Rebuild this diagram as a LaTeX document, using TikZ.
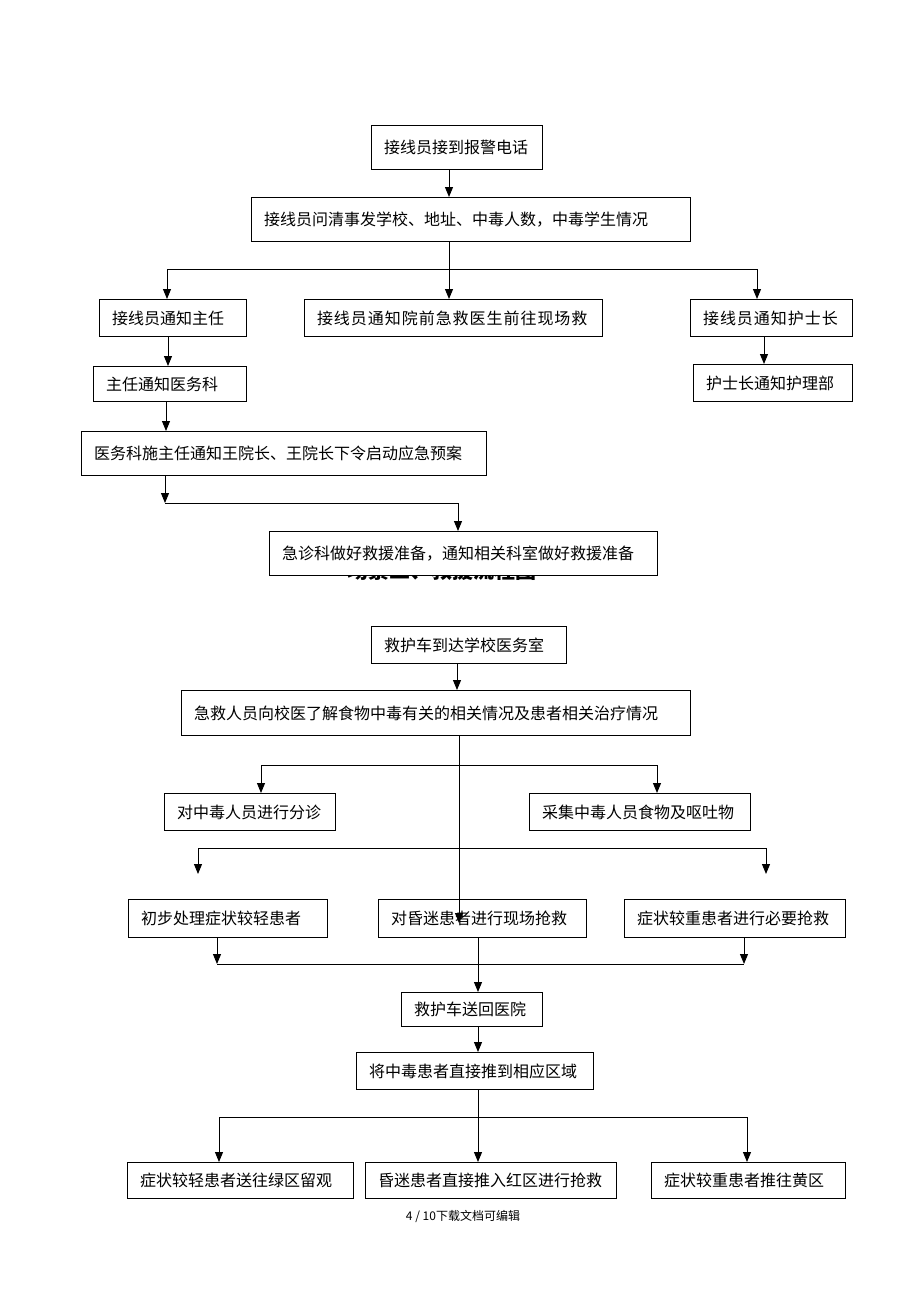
\documentclass[tikz,border=0pt]{standalone}
\usepackage{fontspec}
\newfontfamily\cjk{Noto Sans CJK SC}
\usetikzlibrary{arrows.meta}
\tikzset{
  box/.style={draw=black, line width=1.1pt, fill=white, inner xsep=12.5pt, inner ysep=0pt,
    font=\cjk\fontsize{16}{19}\selectfont, text=black},
  arr/.style={line width=1pt, -{Triangle[length=10pt,width=8pt]}},
  ln/.style={line width=1pt},
}
\newcommand\flowbox[6]{%
  \pgfmathsetmacro\bw{#4-#2}%
  \pgfmathsetmacro\bh{#5-#3}%
  \pgfmathsetmacro\tw{#4-#2-25}%
  \node[box, minimum width=\bw pt, minimum height=\bh pt, anchor=north west] (#1) at (#2,#3) {\makebox[\tw pt][l]{#6}};}
\begin{document}
\begin{tikzpicture}[x=1pt, y=-1pt]
\useasboundingbox (0,0) rectangle (920,1302);
\fill[white] (0,0) rectangle (920,1302);
% part 1
\flowbox{b1}{371}{125}{542}{169}{接线员接到报警电话}
\flowbox{b2}{251}{197}{690}{241}{接线员问清事发学校、地址、中毒人数，中毒学生情况}
\flowbox{b3a}{99}{299}{246}{336}{接线员通知主任}
\flowbox{b3b}{304}{299}{602}{336}{\addfontfeature{LetterSpace=6}接线员通知院前急救医生前往现场救}
\flowbox{b3c}{690}{299}{852}{336}{\addfontfeature{LetterSpace=6}接线员通知护士长}
\flowbox{b4a}{93}{366}{246}{401}{主任通知医务科}
\flowbox{b4c}{693}{364}{852}{401}{护士长通知护理部}
\flowbox{b5}{81}{431}{486}{475}{医务科施主任通知王院长、王院长下令启动应急预案}
\node[font=\cjk\bfseries\fontsize{21}{24}\selectfont, anchor=base] (title) at (442,578) {场景二、救援流程图};
\flowbox{b6}{269}{531}{657}{575}{急诊科做好救援准备，通知相关科室做好救援准备}
% part 2
\flowbox{b7}{371}{626}{566}{663}{救护车到达学校医务室}
\flowbox{b8}{181}{690}{690}{735}{急救人员向校医了解食物中毒有关的相关情况及患者相关治疗情况}
\flowbox{b9a}{164}{793}{335}{830}{对中毒人员进行分诊}
\flowbox{b9c}{529}{793}{750}{830}{采集中毒人员食物及呕吐物}
\flowbox{b10a}{128}{899}{327}{937}{初步处理症状较轻患者}
\flowbox{b10b}{378}{899}{586}{937}{对昏迷患者进行现场抢救}
\flowbox{b10c}{624}{899}{845}{937}{症状较重患者进行必要抢救}
\flowbox{b11}{401}{992}{542}{1026}{救护车送回医院}
\flowbox{b12}{356}{1052}{593}{1089}{将中毒患者直接推到相应区域}
\flowbox{b13a}{127}{1162}{353}{1198}{症状较轻患者送往绿区留观}
\flowbox{b13b}{365}{1162}{616}{1198}{昏迷患者直接推入红区进行抢救}
\flowbox{b13c}{651}{1162}{845}{1198}{症状较重患者推往黄区}
\node[font=\cjk\fontsize{12}{14}\selectfont] (footer) at (463,1216) {4 / 10下载文档可编辑};
% connectors part 1
\coordinate (j1l) at (167,269); \coordinate (j1r) at (757,269);
\draw[arr] (449,0 |- b1.south) -- (449,0 |- b2.north);
\draw[arr] (449,0 |- b2.south) -- (449,0 |- b3b.north);
\draw[ln] (j1l) -- (j1r);
\draw[arr] (j1l) -- (j1l |- b3a.north);
\draw[arr] (j1r) -- (j1r |- b3c.north);
\draw[arr] (168,0 |- b3a.south) -- (168,0 |- b4a.north);
\draw[arr] (764,0 |- b3c.south) -- (764,0 |- b4c.north);
\draw[arr] (166,0 |- b4a.south) -- (166,0 |- b5.north);
\coordinate (j2l) at (165,503); \coordinate (j2r) at (458,503);
\draw[arr] (165,0 |- b5.south) -- (j2l);
\draw[ln] (j2l) -- (j2r);
\draw[arr] (j2r) -- (j2r |- b6.north);
% connectors part 2
\draw[arr] (457,0 |- b7.south) -- (457,0 |- b8.north);
\coordinate (t1) at (459,923);
\draw[arr] (459,0 |- b8.south) -- (t1);
\coordinate (j3l) at (261,765); \coordinate (j3r) at (657,765);
\draw[ln] (j3l) -- (j3r);
\draw[arr] (j3l) -- (j3l |- b9a.north);
\draw[arr] (j3r) -- (j3r |- b9c.north);
\coordinate (j4l) at (198,848); \coordinate (j4r) at (766,848);
\coordinate (e4l) at (198,874); \coordinate (e4r) at (766,874);
\draw[ln] (j4l) -- (j4r);
\draw[arr] (j4l) -- (e4l);
\draw[arr] (j4r) -- (e4r);
\coordinate (j5l) at (217,964); \coordinate (j5r) at (744,964);
\draw[arr] (217,0 |- b10a.south) -- (j5l);
\draw[arr] (744,0 |- b10c.south) -- (j5r);
\draw[ln] (j5l) -- (j5r);
\draw[arr] (478,0 |- b10b.south) -- (478,0 |- b11.north);
\draw[arr] (478,0 |- b11.south) -- (478,0 |- b12.north);
\coordinate (j6l) at (219,1117); \coordinate (j6r) at (747,1117);
\draw[arr] (478,0 |- b12.south) -- (478,0 |- b13b.north);
\draw[ln] (j6l) -- (j6r);
\draw[arr] (j6l) -- (j6l |- b13a.north);
\draw[arr] (j6r) -- (j6r |- b13c.north);
\end{tikzpicture}
\end{document}
